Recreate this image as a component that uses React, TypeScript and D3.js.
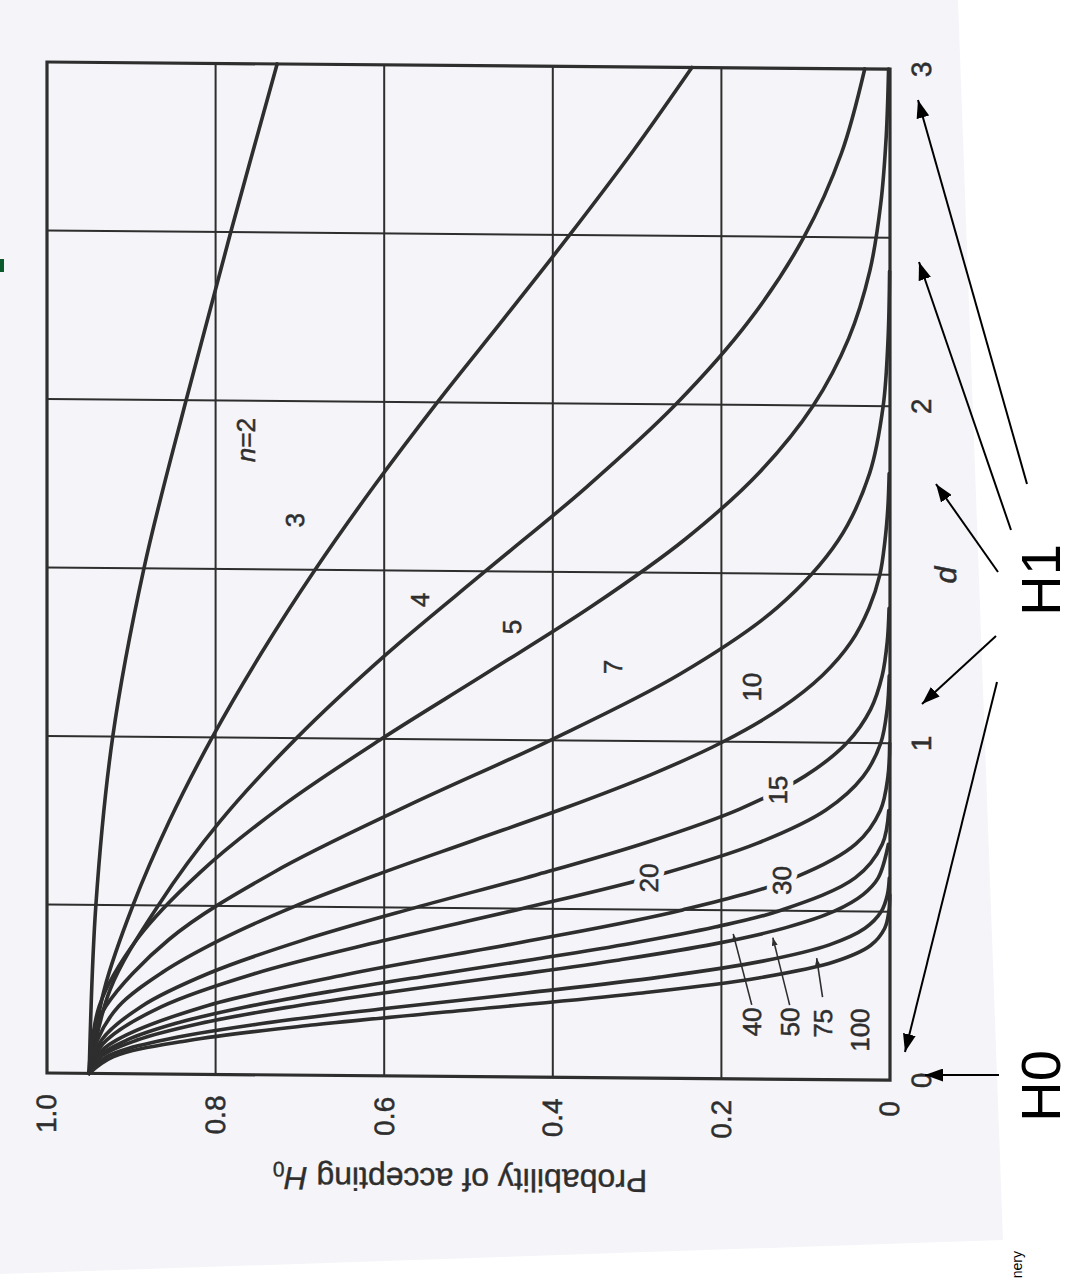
import React from 'react';
import * as d3 from 'd3';

const W = 1070;
const H = 1282;

// axes of the scanned OC chart (drawn rotated: probability runs left->right, d runs bottom->top)
const probGrid = [0.8, 0.6, 0.4, 0.2];
const probTicks = [1.0, 0.8, 0.6, 0.4, 0.2, 0];
const probTickLabels = ['1.0', '0.8', '0.6', '0.4', '0.2', '0'];
const dGrid = [0.5, 1, 1.5, 2, 2.5];
const dTicks = [0, 1, 2, 3];
const dTickLabels = ['0', '1', '2', '3'];

// each row: [d, probability of accepting H0]
const n2 = [[0, 0.95], [0.5, 0.942], [1, 0.922], [1.5, 0.885], [2, 0.835], [2.5, 0.782], [3, 0.727]];
const n3 = [[0, 0.95], [0.25, 0.932], [0.5, 0.898], [0.75, 0.855], [1, 0.804], [1.25, 0.746], [1.5, 0.682], [1.75, 0.612], [2, 0.537], [2.25, 0.458], [2.5, 0.38], [2.75, 0.305], [3, 0.235]];
const n4 = [[0, 0.95], [0.25, 0.925], [0.5, 0.868], [0.75, 0.795], [1, 0.704], [1.25, 0.598], [1.5, 0.48], [1.75, 0.361], [2, 0.254], [2.25, 0.167], [2.5, 0.102], [2.75, 0.0575], [3, 0.03]];
const n5 = [[0, 0.95], [0.2, 0.938], [0.4, 0.893], [0.6, 0.818], [0.8, 0.72], [1, 0.603], [1.2, 0.477], [1.4, 0.353], [1.6, 0.243], [1.8, 0.155], [2, 0.091], [2.2, 0.049], [2.4, 0.024], [2.6, 0.011], [2.8, 0.0045], [3, 0.0017]];
const n7 = [[0, 0.95], [0.1, 0.946], [0.2, 0.93], [0.4, 0.855], [0.6, 0.732], [0.8, 0.574], [1, 0.403], [1.2, 0.249], [1.4, 0.1335], [1.6, 0.0615], [1.8, 0.0242], [2, 0.0081], [2.2, 0.0023], [2.4, 0.0005]];
const n10 = [[0, 0.95], [0.1, 0.94], [0.2, 0.915], [0.3, 0.864], [0.4, 0.794], [0.5, 0.707], [0.6, 0.605], [0.7, 0.495], [0.8, 0.385], [0.9, 0.284], [1, 0.198], [1.1, 0.13], [1.2, 0.08], [1.3, 0.046], [1.4, 0.025], [1.5, 0.012], [1.6, 0.006], [1.7, 0.0025], [1.8, 0.001]];
const n15 = [[0, 0.95], [0.1, 0.935], [0.2, 0.888], [0.3, 0.808], [0.4, 0.697], [0.5, 0.563], [0.6, 0.42], [0.7, 0.288], [0.8, 0.179], [0.9, 0.101], [1, 0.051], [1.1, 0.023], [1.2, 0.0093], [1.3, 0.0033], [1.4, 0.0011]];
const n20 = [[0, 0.95], [0.05, 0.944], [0.1, 0.929], [0.2, 0.864], [0.3, 0.754], [0.4, 0.603], [0.5, 0.436], [0.6, 0.279], [0.7, 0.157], [0.8, 0.076], [0.9, 0.032], [1, 0.011], [1.1, 0.0034], [1.2, 0.0009]];
const n30 = [[0, 0.95], [0.05, 0.942], [0.1, 0.917], [0.2, 0.815], [0.3, 0.645], [0.4, 0.437], [0.5, 0.246], [0.6, 0.112], [0.7, 0.0405], [0.8, 0.0115], [0.9, 0.0025], [1, 0.0004]];
const n40 = [[0, 0.95], [0.05, 0.939], [0.1, 0.905], [0.15, 0.848], [0.2, 0.766], [0.25, 0.662], [0.3, 0.544], [0.35, 0.4215], [0.4, 0.306], [0.45, 0.2075], [0.5, 0.131], [0.6, 0.041], [0.7, 0.0092], [0.8, 0.0015]];
const n50 = [[0, 0.95], [0.05, 0.936], [0.1, 0.893], [0.15, 0.82], [0.2, 0.717], [0.25, 0.59], [0.3, 0.453], [0.35, 0.321], [0.4, 0.208], [0.45, 0.1234], [0.5, 0.066], [0.55, 0.032], [0.6, 0.014], [0.7, 0.0019]];
const n75 = [[0, 0.95], [0.05, 0.929], [0.1, 0.863], [0.15, 0.751], [0.2, 0.599], [0.25, 0.43], [0.3, 0.273], [0.35, 0.151], [0.4, 0.072], [0.45, 0.0297], [0.5, 0.0104], [0.55, 0.0031], [0.6, 0.0008]];
const n100 = [[0, 0.95], [0.05, 0.921], [0.1, 0.832], [0.15, 0.682], [0.2, 0.492], [0.25, 0.303], [0.3, 0.156], [0.35, 0.066], [0.4, 0.0228], [0.45, 0.0064], [0.5, 0.0014], [0.55, 0.0003]];

const curves = [n2, n3, n4, n5, n7, n10, n15, n20, n30, n40, n50, n75, n100];

// curve labels: text, probability, d  (gap = label sits in a break of its curve)
const curveLabels = [
  { text: '3', p: 0.706, d: 1.647, gap: false },
  { text: '4', p: 0.557, d: 1.413, gap: false },
  { text: '5', p: 0.448, d: 1.335, gap: false },
  { text: '7', p: 0.328, d: 1.219, gap: false },
  { text: '10', p: 0.164, d: 1.163, gap: false },
  { text: '15', p: 0.133, d: 0.858, gap: true },
  { text: '20', p: 0.286, d: 0.594, gap: true },
  { text: '30', p: 0.128, d: 0.59, gap: true },
  { text: '40', p: 0.164, d: 0.169, gap: false },
  { text: '50', p: 0.119, d: 0.17, gap: false },
  { text: '75', p: 0.08, d: 0.167, gap: false },
  { text: '100', p: 0.036, d: 0.148, gap: false },
];

// leader lines from the small labels up to their curves: [p0, d0, p1, d1]
const leaders = [
  [0.164, 0.22, 0.186, 0.43],
  [0.119, 0.22, 0.139, 0.42],
  [0.08, 0.245, 0.087, 0.36],
];

// overlay arrows drawn on the slide (page pixels): [x0, y0, x1, y1]
const h1Arrows = [
  [1027, 484, 918, 100],
  [1011, 530, 919, 262],
  [998, 572, 936, 484],
  [996, 636, 922, 704],
  [997, 682, 905, 1052],
];
const h0Arrow = [999, 1075, 925, 1075];

export default function App() {
  const x = d3.scaleLinear().domain([1, 0]).range([47, 890]);
  const y = d3.scaleLinear().domain([0, 3]).range([1073, 62]);
  const line = d3.line<number[]>()
    .x(r => x(r[1]))
    .y(r => y(r[0]))
    .curve(d3.curveCatmullRom.alpha(0.5));

  const ink = '#2e2e2e';
  const paper = '#f5f4f8';
  const font = '"Liberation Sans", Arial, Helvetica, sans-serif';
  // the scan is slightly sheared: right side sits a few pixels lower
  const skew = `matrix(1,0.0085,0,1,0,${-0.0085 * 47})`;

  const rot = (px: number, py: number, a = -90) => `translate(${px},${py}) rotate(${a})`;

  return (
    <svg width={W} height={H} style={{ position: 'absolute', left: 0, top: 0, background: '#fff' }}>
      <defs>
        <marker id="head" viewBox="0 0 18 13" refX="18" refY="6.5" markerWidth="18" markerHeight="13"
          markerUnits="userSpaceOnUse" orient="auto">
          <path d="M0,0 L18,6.5 L0,13 z" fill="#000" />
        </marker>
        <marker id="small" viewBox="0 0 8 6" refX="8" refY="3" markerWidth="8" markerHeight="6"
          markerUnits="userSpaceOnUse" orient="auto">
          <path d="M0,0 L8,3 L0,6 z" fill={ink} />
        </marker>
      </defs>

      <polygon points="0,0 958,0 1003,1240 0,1274" fill={paper} />
      <rect x={0} y={259} width={4} height={13} fill="#0b5a2b" />

      <g transform={skew}>
        {probGrid.map(v => (
          <line key={'pg' + v} x1={x(v)} x2={x(v)} y1={y(0)} y2={y(3)} stroke={ink} strokeWidth={2} />
        ))}
        {dGrid.map(v => (
          <line key={'dg' + v} x1={x(1)} x2={x(0)} y1={y(v)} y2={y(v)} stroke={ink} strokeWidth={2} />
        ))}

        {curves.map((c, i) => (
          <path key={'c' + i} d={line(c) || ''} fill="none" stroke={ink} strokeWidth={3.6}
            strokeLinecap="round" />
        ))}

        {leaders.map((l, i) => (
          <line key={'ld' + i} x1={x(l[0])} y1={y(l[1])} x2={x(l[2])} y2={y(l[3])}
            stroke={ink} strokeWidth={1.6} markerEnd="url(#small)" />
        ))}

        <rect x={x(1)} y={y(3)} width={x(0) - x(1)} height={y(0) - y(3)} fill="none"
          stroke={ink} strokeWidth={3.2} />

        <text transform={rot(x(0.764), y(1.883))} textAnchor="middle" dominantBaseline="central"
          fontFamily={font} fontSize={26} fill={ink} stroke={ink} strokeWidth={0.5}>
          <tspan fontStyle="italic">n</tspan>=2
        </text>
        {curveLabels.filter(l => l.gap).map(l => (
          <text key={'halo' + l.text} transform={rot(x(l.p), y(l.d))} textAnchor="middle"
            dominantBaseline="central" fontFamily={font} fontSize={26} fill={paper}
            stroke={paper} strokeWidth={12} strokeLinejoin="round">
            {l.text}
          </text>
        ))}
        {curveLabels.map(l => (
          <text key={'lb' + l.text} transform={rot(x(l.p), y(l.d))} textAnchor="middle"
            dominantBaseline="central" fontFamily={font} fontSize={26} fill={ink}
            stroke={ink} strokeWidth={0.5}>
            {l.text}
          </text>
        ))}

        {probTicks.map((v, i) => (
          <text key={'pt' + v} transform={rot(x(v), 1094)} textAnchor="end" dominantBaseline="central"
            fontFamily={font} fontSize={28} fill={ink} stroke={ink} strokeWidth={0.5}>
            {probTickLabels[i]}
          </text>
        ))}
        {dTicks.map((v, i) => (
          <text key={'dt' + v} transform={rot(922, y(v))} textAnchor="middle" dominantBaseline="central"
            fontFamily={font} fontSize={28} fill={ink} stroke={ink} strokeWidth={0.5}>
            {dTickLabels[i]}
          </text>
        ))}

        <text transform={rot(946, y(1.5))} textAnchor="middle" dominantBaseline="central"
          fontFamily={font} fontSize={30} fontStyle="italic" fill={ink} stroke={ink} strokeWidth={0.5}>d</text>

        <text transform={rot(460, 1176, 180)} textAnchor="middle" dominantBaseline="central"
          fontFamily={font} fontSize={32} fill={ink} stroke={ink} strokeWidth={0.4}>
          Probability of accepting <tspan fontStyle="italic">H</tspan>
          <tspan fontSize={21} dy={8}>0</tspan>
        </text>
      </g>

      {h1Arrows.map((a, i) => (
        <line key={'ha' + i} x1={a[0]} y1={a[1]} x2={a[2]} y2={a[3]} stroke="#000" strokeWidth={2}
          markerEnd="url(#head)" />
      ))}
      <line x1={h0Arrow[0]} y1={h0Arrow[1]} x2={h0Arrow[2]} y2={h0Arrow[3]} stroke="#000" strokeWidth={2}
        markerEnd="url(#head)" />

      <text transform={rot(1040, 580)} textAnchor="middle" dominantBaseline="central"
        fontFamily={font} fontSize={56} fill="#000">H1</text>
      <text transform={rot(1040, 1086)} textAnchor="middle" dominantBaseline="central"
        fontFamily={font} fontSize={56} fill="#000">H0</text>
      <text transform={rot(1022, 1251)} textAnchor="end" fontFamily={font} fontSize={14} fill="#000">nery</text>
    </svg>
  );
}
